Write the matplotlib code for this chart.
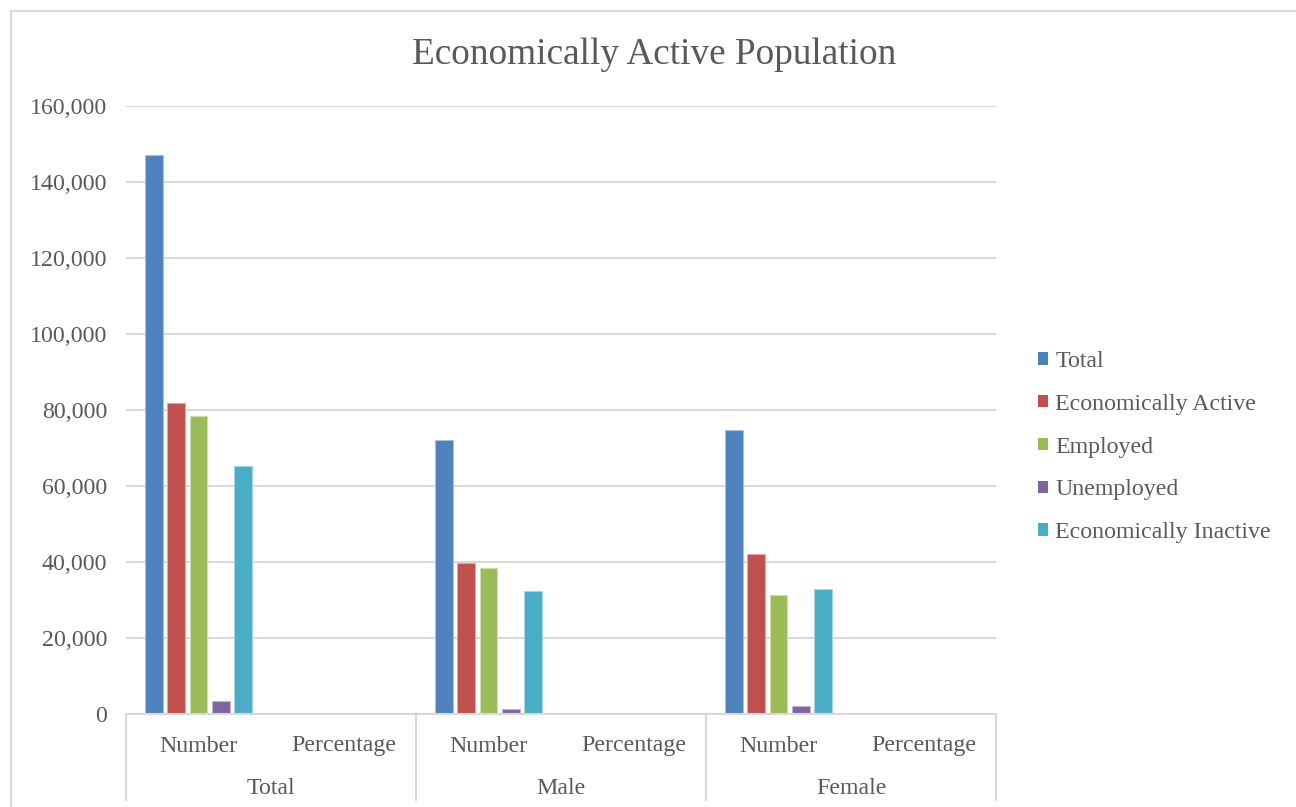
import matplotlib
matplotlib.use("Agg")
import matplotlib.pyplot as plt
from matplotlib.patches import Patch
from matplotlib.lines import Line2D

# ---- data ----
groups = ["Total", "Male", "Female"]
measures = ["Number", "Percentage"]
series_names = ["Total", "Economically Active", "Employed", "Unemployed", "Economically Inactive"]
# values per category: Total/Number, Total/Percentage, Male/Number, Male/Percentage, Female/Number, Female/Percentage
total_vals = [147200, 100, 72200, 100, 74800, 100]
active_vals = [81900, 55.7, 39800, 55.1, 42000, 56.1]
employed_vals = [78500, 53.3, 38500, 53.3, 31200, 41.7]
unemployed_vals = [3500, 4.3, 1200, 3.0, 2200, 5.2]
inactive_vals = [65300, 44.4, 32300, 44.7, 32800, 43.9]
yticks = [0, 20000, 40000, 60000, 80000, 100000, 120000, 140000, 160000]

colors = ["#4F81BD", "#C0504D", "#9BBB59", "#8064A2", "#4BACC6"]
edge_colors = ["#A7C0DE", "#DFA8A6", "#CDDDAC", "#BFB1D0", "#A5D5E2"]
text_color = "#595959"
grid_color = "#D9D9D9"
font = "Liberation Serif"
fs = 17.2

W, H = 1296, 807
fig = plt.figure(figsize=(W / 100, H / 100), dpi=100)
fig.patch.set_facecolor("white")

# outer chart border (left/top visible)
fig.add_artist(Line2D([11 / W, 11 / W], [0, 1 - 10.5 / H], transform=fig.transFigure,
                      color=grid_color, lw=1.5))
fig.add_artist(Line2D([11 / W, 1], [1 - 10.5 / H, 1 - 10.5 / H], transform=fig.transFigure,
                      color=grid_color, lw=1.5))

x0, x1 = 126, 996
y0, y1 = 106, 714
ax = fig.add_axes([x0 / W, 1 - y1 / H, (x1 - x0) / W, (y1 - y0) / H])

all_series = [total_vals, active_vals, employed_vals, unemployed_vals, inactive_vals]
ncat = len(total_vals)
xs = list(range(ncat))
step = 0.154
bw = 0.122
for i, (vals, c, ec, name) in enumerate(zip(all_series, colors, edge_colors, series_names)):
    off = (i - 2) * step
    ax.bar([x + off for x in xs], vals, width=bw, color=c, edgecolor=ec, linewidth=0.8,
           label=name, zorder=2)

ax.set_xlim(-0.5, ncat - 0.5)
ax.set_ylim(0, 160000)
ax.set_yticks(yticks)
ax.set_yticklabels([f"{v:,}" for v in yticks], fontsize=fs, color=text_color, family=font)
ax.tick_params(axis="y", length=0, pad=13.5)
ax.set_xticks([])
for s in ["top", "right", "left"]:
    ax.spines[s].set_visible(False)
ax.spines["bottom"].set_color(grid_color)
ax.spines["bottom"].set_linewidth(1.5)
ax.spines["bottom"].set_zorder(3)
ax.yaxis.grid(True, color=grid_color, linewidth=1.5, zorder=0)
ax.set_axisbelow(True)

# category labels (two levels)
trans = ax.get_xaxis_transform()
for k in range(ncat):
    ax.text(k, -(746 - y1) / (y1 - y0), measures[k % 2], transform=trans, ha="center", va="center",
            fontsize=fs, color=text_color, family=font)
for g, name in enumerate(groups):
    ax.text(2 * g + 0.5, -(788 - y1) / (y1 - y0), name, transform=trans, ha="center", va="center",
            fontsize=fs, color=text_color, family=font)
for b in [-0.5, 1.5, 3.5, 5.5]:
    ax.add_line(Line2D([b, b], [0, -(800 - y1) / (y1 - y0)], transform=trans, color=grid_color,
                       lw=1.5, clip_on=False))

# title
fig.text(654 / W, 1 - 55 / H, "Economically Active Population", ha="center", va="center",
         fontsize=26.8, color=text_color, family=font)

# legend
handles = [Patch(facecolor=c, edgecolor="none") for c in colors]
leg = fig.legend(handles, series_names, loc="center left", bbox_to_anchor=(1038 / W, 1 - 447 / H),
                 frameon=False, prop={"family": font, "size": fs}, labelcolor=text_color,
                 handlelength=0.42, handleheight=0.42, handletextpad=0.3, labelspacing=0.91,
                 borderaxespad=0, borderpad=0)

fig.savefig("out.png", dpi=100, facecolor="white")
